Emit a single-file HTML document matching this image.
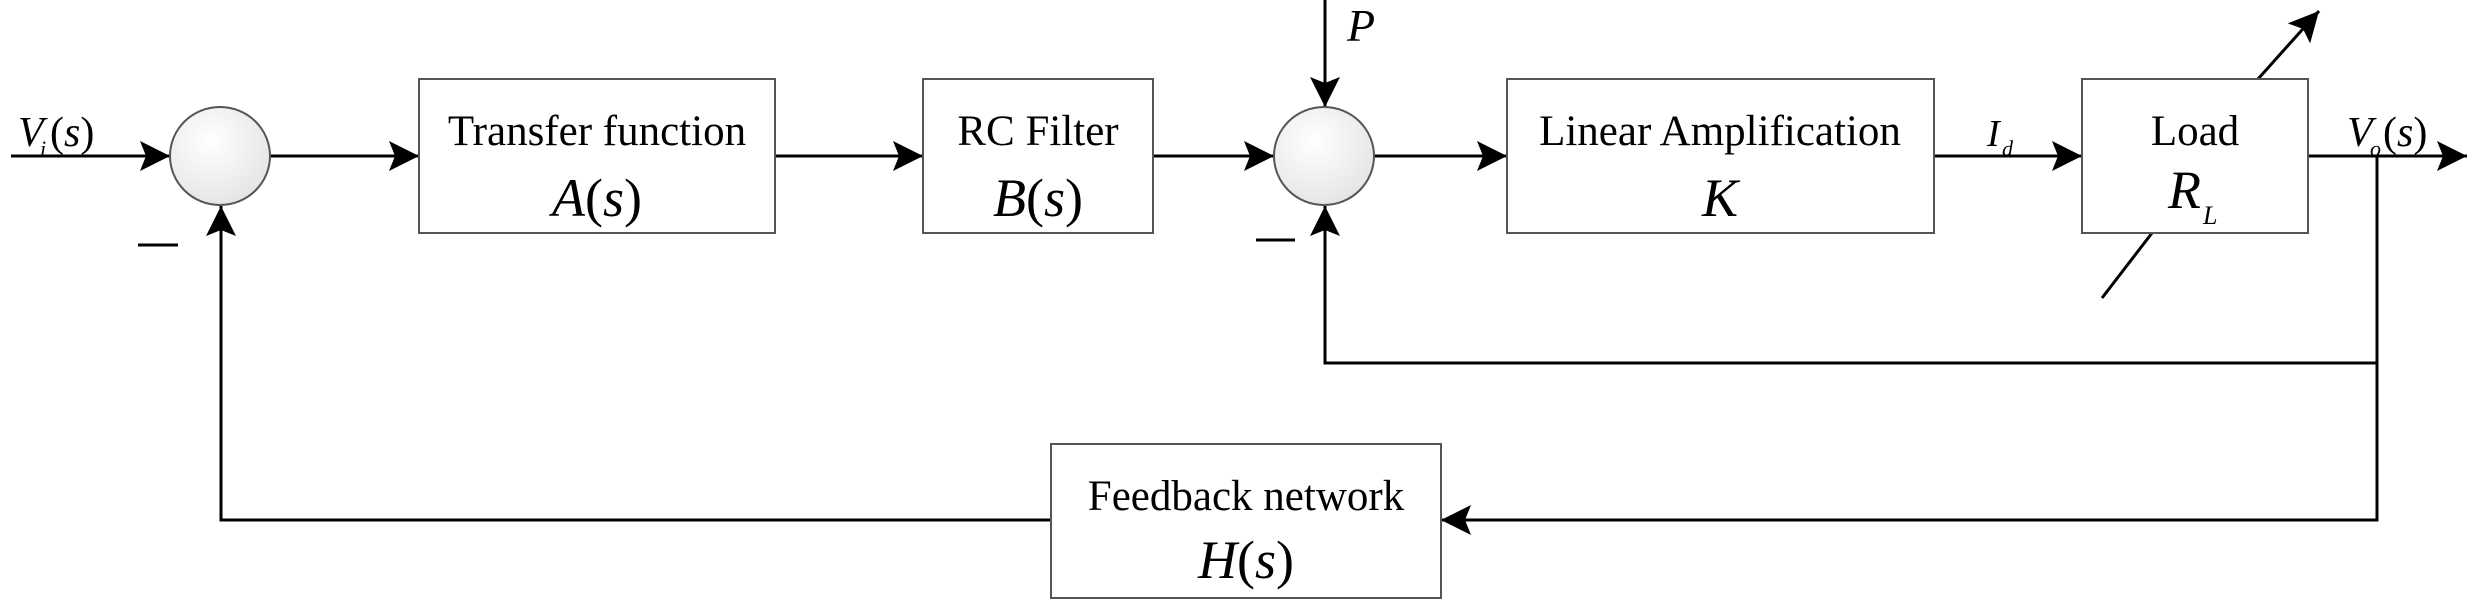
<!DOCTYPE html>
<html><head><meta charset="utf-8"><style>
html,body{margin:0;padding:0;background:#fff;}
svg{display:block;}
text{font-family:"Liberation Serif",serif;fill:#000;}
.t{font-size:43px;}
.m{font-size:54px;}
.s{font-size:26px;font-style:italic;}
</style></head><body>
<svg width="2478" height="609" viewBox="0 0 2478 609" xmlns="http://www.w3.org/2000/svg">
<defs>
<radialGradient id="g" cx="0.4" cy="0.35" r="0.7">
<stop offset="0" stop-color="#ffffff"/><stop offset="1" stop-color="#e4e4e4"/>
</radialGradient>
<marker id="a" markerWidth="32" markerHeight="32" refX="30" refY="16" orient="auto" markerUnits="userSpaceOnUse">
<path d="M0,1 L30,16 L0,31 L6,16 Z" fill="#000"/>
</marker>
</defs>
<g stroke="#000" stroke-width="3" fill="none">
<line x1="11" y1="156" x2="170" y2="156" marker-end="url(#a)"/>
<line x1="270" y1="156" x2="419" y2="156" marker-end="url(#a)"/>
<line x1="775" y1="156" x2="923" y2="156" marker-end="url(#a)"/>
<line x1="1153" y1="156" x2="1274" y2="156" marker-end="url(#a)"/>
<line x1="1374" y1="156" x2="1507" y2="156" marker-end="url(#a)"/>
<line x1="1934" y1="156" x2="2082" y2="156" marker-end="url(#a)"/>
<line x1="2308" y1="156" x2="2467" y2="156" marker-end="url(#a)"/>
<line x1="1325" y1="0" x2="1325" y2="107" marker-end="url(#a)"/>
<polyline points="2377,156 2377,520 1441,520" marker-end="url(#a)"/>
<polyline points="2377,363 1325,363 1325,206" marker-end="url(#a)"/>
<polyline points="1051,520 221,520 221,206" marker-end="url(#a)"/>
<line x1="2102" y1="298" x2="2152" y2="233"/>
<line x1="2258" y1="79" x2="2319" y2="11" marker-end="url(#a)"/>
<line x1="138" y1="245" x2="178" y2="245"/>
<line x1="1256" y1="240" x2="1295" y2="240"/>
</g>
<g stroke="#555" stroke-width="2" fill="#fff">
<rect x="419" y="79" width="356" height="154"/>
<rect x="923" y="79" width="230" height="154"/>
<rect x="1507" y="79" width="427" height="154"/>
<rect x="2082" y="79" width="226" height="154"/>
<rect x="1051" y="444" width="390" height="154"/>
<ellipse cx="220" cy="156" rx="50" ry="49" fill="url(#g)"/>
<ellipse cx="1324" cy="156" rx="50" ry="49" fill="url(#g)"/>
</g>
<text class="t" x="597" y="145" text-anchor="middle">Transfer function</text>
<text class="m" x="597" y="216" text-anchor="middle"><tspan font-style="italic">A</tspan>(<tspan font-style="italic">s</tspan>)</text>
<text class="t" x="1038" y="145" text-anchor="middle">RC Filter</text>
<text class="m" x="1038" y="216" text-anchor="middle"><tspan font-style="italic">B</tspan>(<tspan font-style="italic">s</tspan>)</text>
<text class="t" x="1720" y="145" text-anchor="middle">Linear Amplification</text>
<text class="m" x="1720" y="216" text-anchor="middle" font-style="italic">K</text>
<text class="t" x="2195" y="145" text-anchor="middle">Load</text>
<text class="m" x="2168" y="208" font-style="italic">R</text><text class="s" x="2203" y="224">L</text>
<text class="t" x="1246" y="510" text-anchor="middle">Feedback network</text>
<text class="m" x="1246" y="578" text-anchor="middle"><tspan font-style="italic">H</tspan>(<tspan font-style="italic">s</tspan>)</text>
<text x="1347" y="41" style="font-size:46px;font-style:italic">P</text>
<text x="18" y="146" style="font-size:42px;font-style:italic">V</text><text class="s" x="40" y="156" style="font-size:22px">i</text><text x="50" y="146" style="font-size:42px">(<tspan font-style="italic">s</tspan>)</text>
<text x="1987" y="146" style="font-size:38px;font-style:italic">I</text><text class="s" x="2002" y="156" style="font-size:22px">d</text>
<text x="2347" y="146" style="font-size:42px;font-style:italic">V</text><text class="s" x="2370" y="156" style="font-size:22px">o</text><text x="2383" y="146" style="font-size:42px">(<tspan font-style="italic">s</tspan>)</text>
</svg>
</body></html>
